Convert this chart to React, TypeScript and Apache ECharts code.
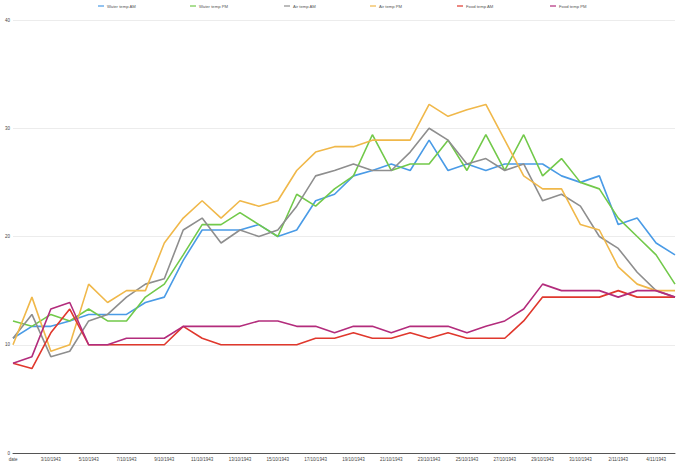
import React, { useEffect, useRef } from "react";
import * as echarts from "echarts";

const categories = [
  "date", "2/10/1943", "3/10/1943", "4/10/1943", "5/10/1943", "6/10/1943", "7/10/1943", "8/10/1943",
  "9/10/1943", "10/10/1943", "11/10/1943", "12/10/1943", "13/10/1943", "14/10/1943", "15/10/1943",
  "16/10/1943", "17/10/1943", "18/10/1943", "19/10/1943", "20/10/1943", "21/10/1943", "22/10/1943",
  "23/10/1943", "24/10/1943", "25/10/1943", "26/10/1943", "27/10/1943", "28/10/1943", "29/10/1943",
  "30/10/1943", "31/10/1943", "1/11/1943", "2/11/1943", "3/11/1943", "4/11/1943", "5/11/1943",
];

const waterAM = [10.6, 11.7, 11.7, 12.2, 12.8, 12.8, 12.8, 13.9, 14.4, 17.8, 20.6, 20.6, 20.6, 21.1, 20.0, 20.6, 23.3, 23.9, 25.6, 26.1, 26.7, 26.1, 28.9, 26.1, 26.7, 26.1, 26.7, 26.7, 26.7, 25.6, 25.0, 25.6, 21.1, 21.7, 19.4, 18.3];
const waterPM = [12.2, 11.7, 12.8, 12.2, 13.3, 12.2, 12.2, 14.4, 15.6, 18.3, 21.1, 21.1, 22.2, 21.1, 20.0, 23.9, 22.8, 24.4, 25.6, 29.4, 26.1, 26.7, 26.7, 28.9, 26.1, 29.4, 26.1, 29.4, 25.6, 27.2, 25.0, 24.4, 21.7, 20.0, 18.3, 15.6];
const airAM = [10.6, 12.8, 8.9, 9.4, 12.2, 12.8, 14.4, 15.6, 16.1, 20.6, 21.7, 19.4, 20.6, 20.0, 20.6, 22.8, 25.6, 26.1, 26.7, 26.1, 26.1, 27.8, 30.0, 28.9, 26.7, 27.2, 26.1, 26.7, 23.3, 23.9, 22.8, 20.0, 18.9, 16.7, 15.0, 14.4];
const airPM = [10.0, 14.4, 9.4, 10.0, 15.6, 13.9, 15.0, 15.0, 19.4, 21.7, 23.3, 21.7, 23.3, 22.8, 23.3, 26.1, 27.8, 28.3, 28.3, 28.9, 28.9, 28.9, 32.2, 31.1, 31.7, 32.2, 28.9, 25.6, 24.4, 24.4, 21.1, 20.6, 17.2, 15.6, 15.0, 15.0];
const foodAM = [8.3, 7.8, 11.1, 13.3, 10.0, 10.0, 10.0, 10.0, 10.0, 11.7, 10.6, 10.0, 10.0, 10.0, 10.0, 10.0, 10.6, 10.6, 11.1, 10.6, 10.6, 11.1, 10.6, 11.1, 10.6, 10.6, 10.6, 12.2, 14.4, 14.4, 14.4, 14.4, 15.0, 14.4, 14.4, 14.4];
const foodPM = [8.3, 8.9, 13.3, 13.9, 10.0, 10.0, 10.6, 10.6, 10.6, 11.7, 11.7, 11.7, 11.7, 12.2, 12.2, 11.7, 11.7, 11.1, 11.7, 11.7, 11.1, 11.7, 11.7, 11.7, 11.1, 11.7, 12.2, 13.3, 15.6, 15.0, 15.0, 15.0, 14.4, 15.0, 15.0, 14.4];

const seriesNames = ["Water temp AM", "Water temp PM", "Air temp AM", "Air temp PM", "Food temp AM", "Food temp PM"];
const seriesData = [waterAM, waterPM, airAM, airPM, foodAM, foodPM];
const colors = ["#4a9be6", "#72c94a", "#8e8e8e", "#f0b84a", "#e0382d", "#b32c7c"];
const legendCenters = [101, 193, 287, 373, 460, 553];

export default function App() {
  const ref = useRef<HTMLDivElement>(null);
  useEffect(() => {
    if (!ref.current) return;
    const chart = echarts.init(ref.current, null, { renderer: "svg" });
    const font = "Liberation Sans, Arial, sans-serif";
    chart.setOption({
      animation: false,
      backgroundColor: "#ffffff",
      color: colors,
      legend: seriesNames.map((n, i) => ({
        data: [n],
        left: legendCenters[i] - 3,
        top: 4,
        icon: "rect",
        itemWidth: 6,
        itemHeight: 1.2,
        itemGap: 4,
        padding: 0,
        textStyle: { fontSize: 4.2, color: "#555", fontFamily: font, padding: [0, 0, 0, -2] },
      })),
      grid: { left: 13, right: 5, top: 20, bottom: 11, containLabel: false },
      xAxis: {
        type: "category",
        data: categories,
        boundaryGap: false,
        axisLine: { lineStyle: { color: "#555", width: 1 } },
        axisTick: { show: false },
        axisLabel: { interval: 1, fontSize: 4.5, color: "#444", fontFamily: font, margin: 4 },
        splitLine: { show: false },
      },
      yAxis: {
        type: "value",
        min: 0,
        max: 40,
        interval: 10,
        axisLine: { show: false },
        axisTick: { show: false },
        axisLabel: { fontSize: 4.5, color: "#444", fontFamily: font, margin: 3 },
        splitLine: { lineStyle: { color: "#ececec", width: 1 } },
      },
      series: seriesNames.map((n, i) => ({
        name: n,
        type: "line",
        data: seriesData[i],
        symbol: "none",
        lineStyle: { width: 1.6, color: colors[i] },
        itemStyle: { color: colors[i] },
      })),
    });
    return () => chart.dispose();
  }, []);
  return <div ref={ref} style={{ width: 680, height: 464, position: "absolute", left: 0, top: 0 }} />;
}
